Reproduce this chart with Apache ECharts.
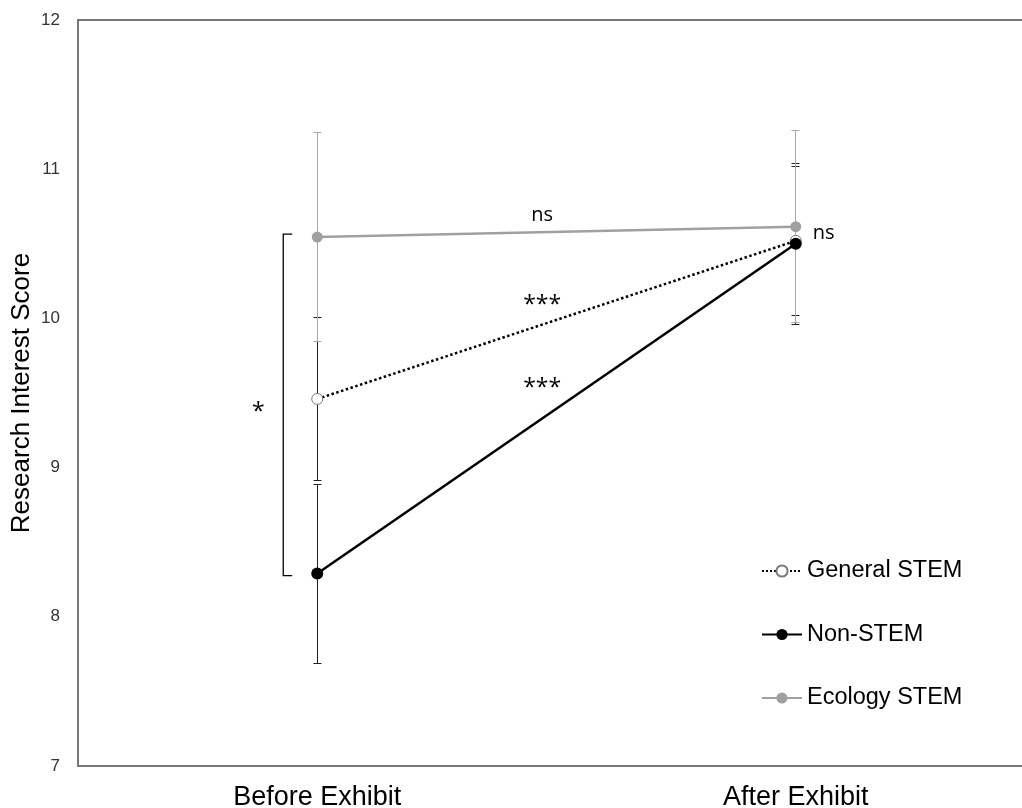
<!DOCTYPE html>
<html>
<head>
<meta charset="utf-8">
<script src="https://cdn.jsdelivr.net/npm/echarts@6/dist/echarts.min.js"></script>
<style>
html,body{margin:0;padding:0;background:#fff;}
#chart{width:1022px;height:808px;}
</style>
</head>
<body>
<div id="chart"></div>
<script>
// ---- data ----
const categories = ['Before Exhibit', 'After Exhibit'];
const yTicks = [7, 8, 9, 10, 11, 12];
const seriesNames = ['General STEM', 'Non-STEM', 'Ecology STEM'];
const generalMean = [9.46, 10.52];
const generalErr = [0.545, 0.50];
const nonStemMean = [8.29, 10.50];
const nonStemErr = [0.60, 0.54];
const ecologyMean = [10.545, 10.615];
const ecologyErr = [0.70, 0.645];
// significance labels
const sigEcology = 'ns';
const sigGeneral = '***';
const sigNonStem = '***';
const sigAfter = 'ns';
const sigBefore = '*';

const FONT = '"Liberation Sans", Arial, sans-serif';
const FONT2 = '"Open Sans", "Noto Sans", sans-serif';

const chart = echarts.init(document.getElementById('chart'), null, {renderer: 'canvas', width: 1022, height: 808});

function crisp(v) { return Math.round(v - 0.5) + 0.5; }

function errSeries(means, errs, color, z) {
  return {
    type: 'custom',
    silent: true,
    z: z,
    data: means.map((m, i) => [i, m, errs[i]]),
    encode: {x: 0, y: 1},
    renderItem: function (params, api) {
      const i = api.value(0), m = api.value(1), e = api.value(2);
      const top = api.coord([i, m + e]);
      const bot = api.coord([i, m - e]);
      const x = crisp(top[0]);
      const yt = crisp(top[1]), yb = crisp(bot[1]);
      const hw = 4;
      const st = {stroke: color, lineWidth: 1};
      return {
        type: 'group',
        children: [
          {type: 'line', shape: {x1: x, y1: yt, x2: x, y2: yb}, style: st},
          {type: 'line', shape: {x1: x - hw, y1: yt, x2: x + hw, y2: yt}, style: st},
          {type: 'line', shape: {x1: x - hw, y1: yb, x2: x + hw, y2: yb}, style: st}
        ]
      };
    }
  };
}

const option = {
  animation: false,
  backgroundColor: '#fff',
  grid: {
    left: 78, width: 957, top: 20, height: 746,
    containLabel: false, outerBoundsMode: 'none',
    show: true, borderColor: '#767676', borderWidth: 2
  },
  legend: {
    data: seriesNames,
    orient: 'vertical',
    left: 756,
    top: 554,
    itemWidth: 40,
    itemHeight: 14,
    itemGap: 39.5,
    textStyle: {fontFamily: FONT, fontSize: 23.5, color: '#000'},
    selectedMode: false
  },
  xAxis: {
    type: 'category',
    data: categories,
    boundaryGap: true,
    axisTick: {show: false},
    axisLine: {show: true, lineStyle: {color: '#767676', width: 2}},
    axisLabel: {fontFamily: FONT, fontSize: 27, color: '#000', margin: 18},
    splitLine: {show: false}
  },
  yAxis: {
    type: 'value',
    min: yTicks[0],
    max: yTicks[yTicks.length - 1],
    interval: 1,
    name: 'Research Interest Score',
    nameLocation: 'middle',
    nameGap: 43,
    nameMoveOverlap: false,
    nameTextStyle: {fontFamily: FONT, fontSize: 26, color: '#000'},
    axisTick: {show: false},
    axisLine: {show: true, lineStyle: {color: '#767676', width: 2}},
    axisLabel: {fontFamily: FONT, fontSize: 17, color: '#333', margin: 18},
    splitLine: {show: false}
  },
  series: [
    errSeries(nonStemMean, nonStemErr, '#222', 1),
    errSeries(generalMean, generalErr, '#222', 1),
    errSeries(ecologyMean, ecologyErr, '#a8a8a8', 2),
    {
      name: seriesNames[0], type: 'line', data: generalMean, z: 3,
      symbol: 'circle', symbolSize: 11,
      lineStyle: {color: '#000', width: 2.5, type: 'dotted'},
      itemStyle: {color: '#fff', borderColor: '#7a7a7a', borderWidth: 1}
    },
    {
      name: seriesNames[1], type: 'line', data: nonStemMean, z: 4,
      symbol: 'circle', symbolSize: 12,
      lineStyle: {color: '#000', width: 2.5},
      itemStyle: {color: '#000'}
    },
    {
      name: seriesNames[2], type: 'line', data: ecologyMean, z: 5,
      symbol: 'circle', symbolSize: 11,
      lineStyle: {color: '#a0a0a0', width: 2.5},
      itemStyle: {color: '#a0a0a0'}
    }
  ]
};
chart.setOption(option);

// annotations placed through the axes' own scales
function px(cat, val) { return chart.convertToPixel({xAxisIndex: 0, yAxisIndex: 0}, [cat, val]); }
const b0 = px(0, ecologyMean[0]);
const b1 = px(0, nonStemMean[0]);
const a0 = px(1, nonStemMean[1]);
const midX = b0[0] + 0.47 * (a0[0] - b0[0]);
function yOf(v) { return px(0, v)[1]; }

const graphics = [
  {type: 'text', x: midX, y: yOf(10.69), style: {text: sigEcology, font: '20px ' + FONT2, fill: '#000', align: 'center', verticalAlign: 'middle'}},
  {type: 'text', x: midX, y: yOf(10.09), style: {text: sigGeneral, font: '23px ' + FONT2, fill: '#000', align: 'center', verticalAlign: 'middle'}},
  {type: 'text', x: midX, y: yOf(9.53), style: {text: sigNonStem, font: '23px ' + FONT2, fill: '#000', align: 'center', verticalAlign: 'middle'}},
  {type: 'text', x: a0[0] + 28, y: yOf(10.57), style: {text: sigAfter, font: '20px ' + FONT2, fill: '#000', align: 'center', verticalAlign: 'middle'}},
  {type: 'text', x: b0[0] - 59, y: yOf(9.37), style: {text: sigBefore, font: '23px ' + FONT2, fill: '#000', align: 'center', verticalAlign: 'middle'}},
  {type: 'polyline', shape: {points: [[b0[0] - 25, b0[1] - 3], [b0[0] - 34, b0[1] - 3], [b1[0] - 34, b1[1] + 2], [b1[0] - 25, b1[1] + 2]]}, style: {stroke: '#000', lineWidth: 1.3, fill: null}}
];
chart.setOption({graphic: graphics});
</script>
</body>
</html>
